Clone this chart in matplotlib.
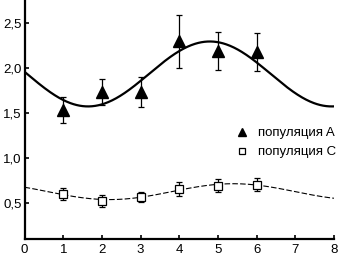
import numpy as np
import matplotlib
matplotlib.use("Agg")
import matplotlib.pyplot as plt
from matplotlib.ticker import FuncFormatter

plt.rcParams['font.family'] = ['Liberation Sans', 'DejaVu Sans']

# data
x_pts = [1, 2, 3, 4, 5, 6]
pop_a = [1.53, 1.73, 1.73, 2.29, 2.18, 2.17]
pop_a_err = [0.14, 0.14, 0.17, 0.29, 0.21, 0.21]
pop_c = [0.60, 0.52, 0.563, 0.655, 0.69, 0.70]
pop_c_err = [0.063, 0.07, 0.055, 0.076, 0.074, 0.072]

# fitted cosine parameters (mean, amplitude, period, x of maximum)
fit_a = dict(mean=1.93, amp=0.36, period=6.3, xmax=4.79)
fit_c = dict(mean=0.625, amp=0.088, period=6.4, xmax=5.4)

labels = ["популяция A", "популяция C"]
x_ticks = [0, 1, 2, 3, 4, 5, 6, 7, 8]
y_ticks = [0.5, 1.0, 1.5, 2.0, 2.5]


def cosfit(x, p):
    return p['mean'] + p['amp'] * np.cos(2 * np.pi * (x - p['xmax']) / p['period'])


fig = plt.figure(figsize=(3.38, 2.56), dpi=100)
ax = fig.add_axes([0.0728, 0.0664, 0.9152, 0.9336])

xf = np.linspace(0, 8, 400)
ax.plot(xf, cosfit(xf, fit_a), color='black', lw=1.6, zorder=2)
ax.plot(xf, cosfit(xf, fit_c), color='black', lw=0.8, dashes=(5, 2), zorder=2)

ax.errorbar(x_pts, pop_a, yerr=pop_a_err, fmt='none', ecolor='black',
            elinewidth=0.9, capsize=2.5, capthick=0.9, zorder=3)
ax.plot(x_pts, pop_a, linestyle='none', marker='^', markersize=8,
        color='black', label=labels[0], zorder=4)
ax.errorbar(x_pts, pop_c, yerr=pop_c_err, fmt='none', ecolor='black',
            elinewidth=0.9, capsize=2.5, capthick=0.9, zorder=3)
ax.plot(x_pts, pop_c, linestyle='none', marker='s', markersize=5.5,
        markerfacecolor='white', markeredgecolor='black', markeredgewidth=0.9,
        label=labels[1], zorder=4)

ax.set_xlim(0, 8)
ax.set_ylim(0.1, 2.75)
ax.set_xticks(x_ticks)
ax.set_yticks(y_ticks)
ax.yaxis.set_major_formatter(FuncFormatter(lambda v, p: f"{v:.1f}".replace('.', ',')))
ax.tick_params(direction='in', length=3, width=1.2, labelsize=9.5, pad=2)
ax.tick_params(axis='x', pad=3.5)
for s in ['top', 'right']:
    ax.spines[s].set_visible(False)
for s in ['left', 'bottom']:
    ax.spines[s].set_linewidth(1.6)

leg = ax.legend(loc='upper left', bbox_to_anchor=(0.665, 0.49), frameon=False,
                fontsize=9.5, handlelength=1.0, handletextpad=0.7,
                labelspacing=0.5, borderaxespad=0, markerscale=0.8)

fig.savefig('out.png', dpi=100)
